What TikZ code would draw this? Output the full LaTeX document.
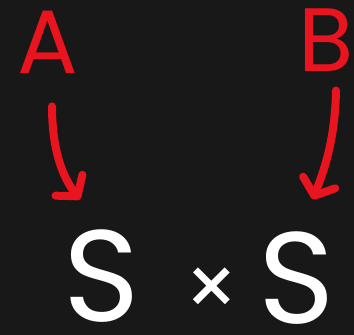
\documentclass[tikz,border=0pt]{standalone}
\usepackage{fontspec}
\setmainfont{Poppins}
\usetikzlibrary{arrows.meta,calc}
\definecolor{pizarra}{HTML}{181818}
\definecolor{rojo}{HTML}{E8141F}
\definecolor{tiza}{HTML}{FFFFFF}

\begin{document}
\begin{tikzpicture}[x=1pt, y=-1pt,
      letra/.style={inner sep=0pt, text=rojo, font=\fontsize{90}{90}\selectfont},
      conj/.style={inner sep=0pt, text=tiza, font=\fontsize{130}{130}\selectfont},
      trazo/.style={draw=rojo, line width=8pt, line cap=round,
                    -{Straight Barb[length=14pt, width=34pt, line cap=round, line join=round]}}]

    \fill[pizarra] (0,0) rectangle (354,335);
    \useasboundingbox (0,0) rectangle (354,335);

    \node[letra] (lblA) at (48,42) {A};
    \node[letra] (lblB) at (326,40) {B};
    \node[conj] (sleft) at (102,276) {S};
    \node[conj, font=\fontsize{85}{85}\selectfont] (times) at (212,293) {×};
    \node[conj] (sright) at (297,278) {S};

    \draw[trazo] ($(lblA.south)+(4,33)$) .. controls +(0,50) and +(-14,-18) .. ($(sleft.north)+(-22,-30)$);
    \draw[trazo] ($(lblB.south)+(10,19)$) .. controls +(-1,55) and +(8,-22) .. ($(sright.north)+(16,-32)$);
\end{tikzpicture}
\end{document}
